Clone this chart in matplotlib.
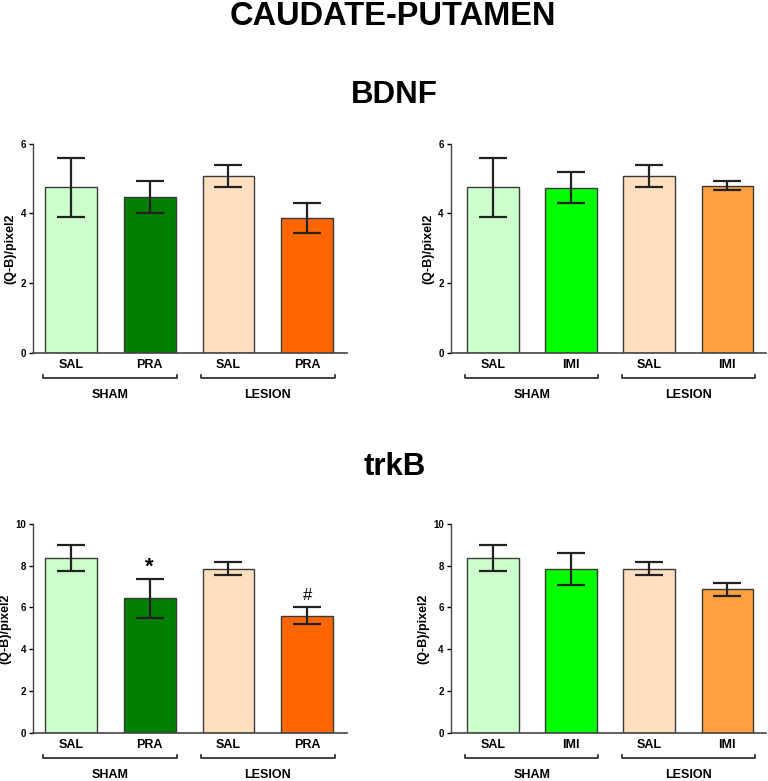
import matplotlib
matplotlib.use("Agg")
import matplotlib.pyplot as plt
import matplotlib.transforms as mtransforms

plt.rcParams["font.family"] = ["Liberation Sans", "DejaVu Sans"]
plt.rcParams["font.weight"] = "bold"

# data
groups = ["SHAM", "LESION"]
pra_labels = ["SAL", "PRA", "SAL", "PRA"]
imi_labels = ["SAL", "IMI", "SAL", "IMI"]

bdnf_pra = [4.75, 4.47, 5.07, 3.87]
bdnf_pra_err = [0.84, 0.45, 0.31, 0.43]
bdnf_imi = [4.75, 4.74, 5.07, 4.80]
bdnf_imi_err = [0.84, 0.44, 0.31, 0.14]

trkb_pra = [8.34, 6.44, 7.85, 5.61]
trkb_pra_err = [0.62, 0.93, 0.31, 0.42]
trkb_imi = [8.34, 7.82, 7.85, 6.86]
trkb_imi_err = [0.62, 0.77, 0.31, 0.32]
trkb_pra_marks = ["", "*", "", "#"]

pra_colors = ["#CCFFCC", "#007F00", "#FFDFBF", "#FF6600"]
imi_colors = ["#CCFFCC", "#00FF00", "#FFDFBF", "#FFA040"]


def draw_panel(ax, labels, values, errors, colors, ymax, yticks, xlim, marks=None):
    x = list(range(len(values)))
    ax.bar(x, values, width=0.66, color=colors, edgecolor="#3a3a3a", linewidth=1.0, zorder=2)
    ax.errorbar(x, values, yerr=errors, fmt="none", ecolor="#222222",
                elinewidth=1.6, capsize=10, capthick=1.6, zorder=3)
    if marks:
        for xi, v, e, m in zip(x, values, errors, marks):
            if m == "*":
                ax.text(xi, v + e + 0.05, m, ha="center", va="bottom", fontsize=16)
            elif m:
                ax.text(xi, v + e + 0.2, m, ha="center", va="bottom", fontsize=12,
                        fontweight="normal")
    ax.set_xlim(*xlim)
    ax.set_ylim(0, ymax)
    ax.set_yticks(yticks)
    ax.tick_params(axis="y", labelsize=7, length=3, width=1, direction="out", pad=2)
    ax.set_xticks(x)
    ax.set_xticklabels(labels, fontsize=9, fontweight="bold")
    ax.tick_params(axis="x", length=0, pad=4)
    for s in ["top", "right"]:
        ax.spines[s].set_visible(False)
    ax.spines["left"].set_color("#444444")
    ax.spines["bottom"].set_color("#444444")
    ax.spines["left"].set_linewidth(1.0)
    ax.spines["bottom"].set_linewidth(1.2)
    ax.set_ylabel("(Q-B)/pixel2", fontsize=9, fontweight="bold", labelpad=3)

    # group brackets under the axis
    trans = mtransforms.blended_transform_factory(ax.transData, ax.transAxes)
    yb = -0.12
    for gi, g in enumerate(groups):
        c = 0.5 + 2 * gi
        x0, x1 = c - 0.85, c + 0.85
        ax.plot([x0, x0, x1, x1], [yb + 0.015, yb, yb, yb + 0.015], color="#222222",
                lw=1.2, transform=trans, clip_on=False)
        ax.text(c, yb - 0.05, g, ha="center", va="top", fontsize=9,
                fontweight="bold", transform=trans)


fig = plt.figure(figsize=(7.68, 7.81), dpi=100)

fig.text(0.511, 0.979, "CAUDATE-PUTAMEN", ha="center", va="center", fontsize=23.5, fontweight="bold")
fig.text(0.514, 0.878, "BDNF", ha="center", va="center", fontsize=22.5, fontweight="bold")
fig.text(0.514, 0.402, "trkB", ha="center", va="center", fontsize=22.5, fontweight="bold")

ax1 = fig.add_axes([0.043, 0.548, 0.409, 0.268])
ax2 = fig.add_axes([0.587, 0.548, 0.411, 0.268])
ax3 = fig.add_axes([0.043, 0.0615, 0.409, 0.268])
ax4 = fig.add_axes([0.587, 0.0615, 0.411, 0.268])

draw_panel(ax1, pra_labels, bdnf_pra, bdnf_pra_err, pra_colors, 6, [0, 2, 4, 6], (-0.483, 3.507))
draw_panel(ax2, imi_labels, bdnf_imi, bdnf_imi_err, imi_colors, 6, [0, 2, 4, 6], (-0.536, 3.5))
draw_panel(ax3, pra_labels, trkb_pra, trkb_pra_err, pra_colors, 10, [0, 2, 4, 6, 8, 10],
           (-0.483, 3.507), marks=trkb_pra_marks)
draw_panel(ax4, imi_labels, trkb_imi, trkb_imi_err, imi_colors, 10, [0, 2, 4, 6, 8, 10], (-0.536, 3.5))

fig.savefig("out.png", dpi=100)
